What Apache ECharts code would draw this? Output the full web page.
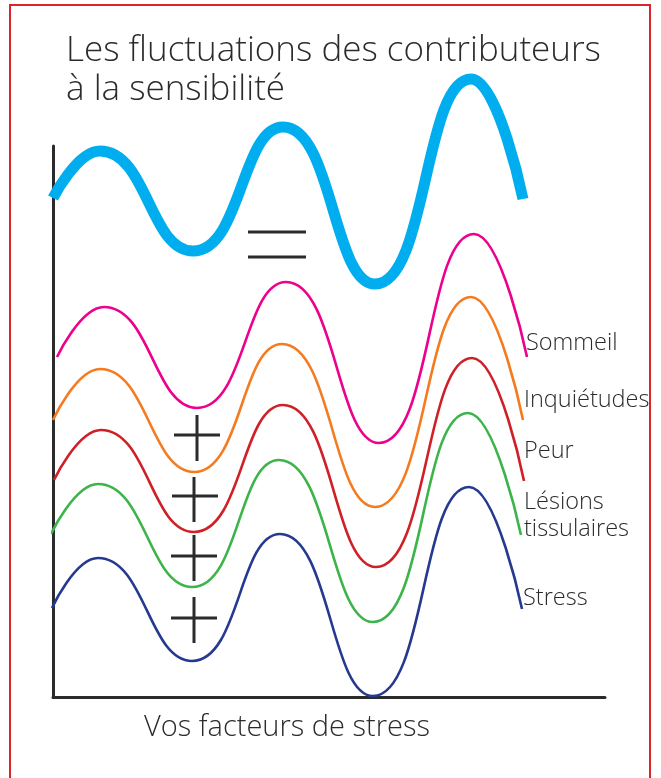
<!DOCTYPE html>
<html>
<head>
<meta charset="utf-8">
<script src="https://cdn.jsdelivr.net/npm/echarts@6/dist/echarts.min.js"></script>
<style>
html,body{margin:0;padding:0;background:#fff;}
#chart{width:661px;height:778px;}
</style>
</head>
<body>
<div id="chart"></div>
<script>
// Each wave: start, peak, trough, peak, trough, peak, end  (time units / level units)
const sensibiliteX = [0, 9.4, 28, 46, 64.4, 83.6, 94];
const sensibiliteY = [99.8, 109.2, 89.2, 114, 82.6, 123.6, 99.6];
const sommeilX = [0.8, 10.2, 28.8, 46.6, 65.2, 84.2, 94.8];
const sommeilY = [68, 78, 57.8, 83, 50.8, 92.6, 68];
const inquietudesX = [0, 9.4, 28.2, 45.8, 64.4, 83.6, 94];
const inquietudesY = [55.4, 65.6, 45, 70.6, 38, 80, 55.4];
const peurX = [0.2, 9.6, 28.2, 46, 64.6, 83.8, 94.2];
const peurY = [43.4, 53.4, 33, 58.4, 26, 67.8, 43.2];
const lesionsX = [-0.4, 9, 27.8, 45.2, 64, 83, 93.6];
const lesionsY = [32.6, 42.6, 22, 47.4, 15, 56.8, 32.4];
const stressX = [-0.2, 9, 27.8, 45.4, 64, 83.2, 93.8];
const stressY = [17.8, 27.8, 7.2, 32.6, 0.2, 42, 17.6];

const labels = ['Sommeil', 'Inquiétudes', 'Peur', 'Lésions\ntissulaires', 'Stress'];
const titleText = 'Les fluctuations des contributeurs\nà la sensibilité';
const xAxisTitle = 'Vos facteurs de stress';

const FONT = '"Open Sans", "Noto Sans", sans-serif';
const INK = '#2b2b2b';

function pairs(x, y) { return y.map((v, i) => [x[i], v]); }

function thin(name, x, y, color, offset) {
  return {
    name: name, type: 'line', data: pairs(x, y), smooth: 0.5, symbol: 'none', clip: false,
    lineStyle: { color: color, width: 2.6 },
    endLabel: {
      show: true, formatter: name, color: INK, fontFamily: FONT, fontWeight: 300,
      fontSize: 23.5, lineHeight: 27, distance: 0, offset: offset
    },
    silent: true, z: 3
  };
}

function plus(cx, cy, top, bottom, left, right) {
  return [
    { type: 'line', shape: { x1: cx, y1: top, x2: cx, y2: bottom }, style: { stroke: INK, lineWidth: 3 } },
    { type: 'line', shape: { x1: left, y1: cy, x2: right, y2: cy }, style: { stroke: INK, lineWidth: 3 } }
  ];
}

const chart = echarts.init(document.getElementById('chart'));

chart.setOption({
  animation: false,
  backgroundColor: '#fff',
  title: {
    text: titleText, left: 66, top: 32, padding: 0,
    textStyle: { fontFamily: FONT, fontWeight: 300, fontSize: 35, lineHeight: 39, color: INK }
  },
  grid: { left: 53, top: 146, width: 552, height: 551 },
  xAxis: {
    type: 'value', min: 0, max: 110.4,
    axisLine: { show: true, lineStyle: { color: INK, width: 3 } },
    axisTick: { show: false }, axisLabel: { show: false }, splitLine: { show: false }
  },
  yAxis: {
    type: 'value', min: 0, max: 110.2,
    axisLine: { show: true, lineStyle: { color: INK, width: 3 } },
    axisTick: { show: false }, axisLabel: { show: false }, splitLine: { show: false }
  },
  series: [
    thin(labels[0], sommeilX, sommeilY, '#ec008c', [-1, -14]),
    thin(labels[1], inquietudesX, inquietudesY, '#f47b20', [1, -20]),
    thin(labels[2], peurX, peurY, '#cf2027', [0, -30]),
    thin(labels[3], lesionsX, lesionsY, '#3cb44a', [3, -19]),
    thin(labels[4], stressX, stressY, '#24398f', [1, -11]),
    {
      name: 'Sensibilité', type: 'line', data: pairs(sensibiliteX, sensibiliteY), smooth: 0.5, symbol: 'none', clip: false,
      lineStyle: { color: '#00aeef', width: 11, cap: 'butt' }, silent: true, z: 4
    }
  ],
  graphic: [
    { type: 'rect', shape: { x: 10, y: 5, width: 640, height: 800 }, style: { fill: 'none', stroke: '#d9262c', lineWidth: 2 }, z: 10 },
    { type: 'line', shape: { x1: 248, y1: 232, x2: 306, y2: 232 }, style: { stroke: INK, lineWidth: 3 } },
    { type: 'line', shape: { x1: 248, y1: 257, x2: 306, y2: 257 }, style: { stroke: INK, lineWidth: 3 } },
    ...plus(197, 435, 415, 461, 174, 220),
    ...plus(194, 496, 477, 522, 172, 218),
    ...plus(194, 556, 535, 581, 171, 217),
    ...plus(194, 618, 597, 643, 171, 217),
    {
      type: 'text', x: 287, y: 728,
      style: { text: xAxisTitle, fontFamily: FONT, fontWeight: 300, fontSize: 29, fill: INK, align: 'center', verticalAlign: 'middle' }
    }
  ]
});
</script>
</body>
</html>
